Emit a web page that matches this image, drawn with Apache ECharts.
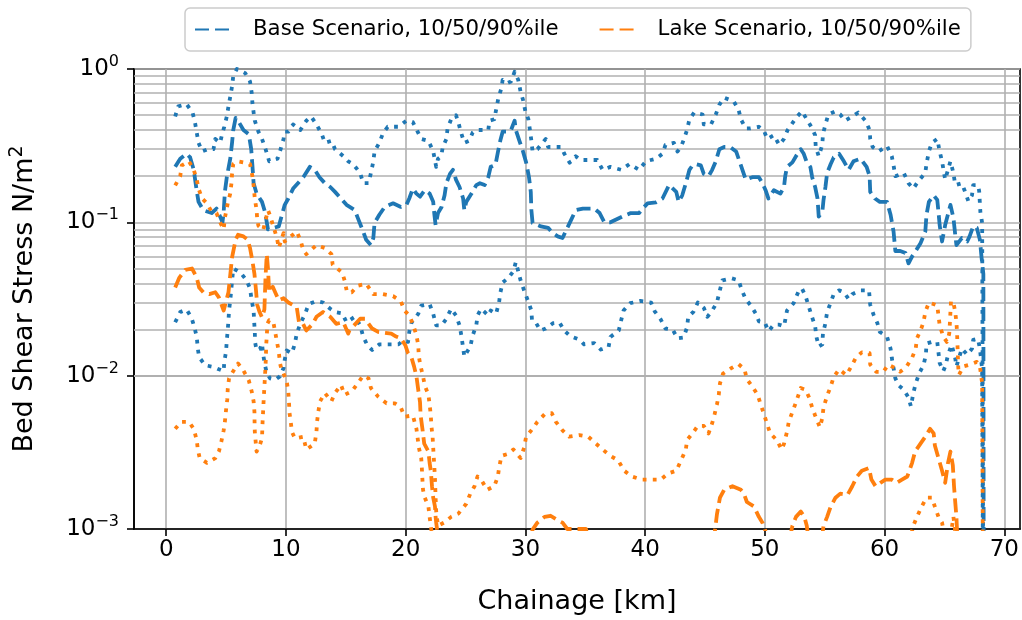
<!DOCTYPE html>
<html>
<head>
<meta charset="utf-8">
<script src="https://cdn.jsdelivr.net/npm/echarts@6/dist/echarts.min.js"></script>
<style>
  html, body { margin: 0; padding: 0; background: #ffffff; }
  #chart { width: 1022px; height: 620px; }
</style>
</head>
<body>
<div id="chart"></div>
<script>
// ---------------- DATA (chainage km, bed shear stress N/m2) ----------------
const legendNames = ['Base Scenario, 10/50/90%ile', 'Lake Scenario, 10/50/90%ile'];
const xTickValues = [0, 10, 20, 30, 40, 50, 60, 70];
const yMinorValues = [0.002,0.003,0.004,0.005,0.006,0.007,0.008,0.009,
                      0.02,0.03,0.04,0.05,0.06,0.07,0.08,0.09,
                      0.2,0.3,0.4,0.5,0.6,0.7,0.8,0.9];

const base90 = [[0.75,0.49],[1.0,0.57],[1.7,0.59],[2.2,0.52],[2.4,0.45],[2.55,0.385],[2.7,0.33],[3.0,0.29],[3.5,0.30],[3.95,0.30],[4.1,0.35],[4.5,0.33],[4.65,0.37],[4.85,0.42],[5.06,0.49],[5.2,0.57],[5.35,0.66],[5.5,0.77],[5.6,0.90],[5.9,1.0],[6.6,0.94],[7.0,0.83],[7.14,0.70],[7.2,0.60],[7.3,0.52],[7.4,0.46],[7.7,0.39],[8.0,0.35],[8.3,0.30],[8.6,0.25],[9.3,0.26],[9.5,0.29],[9.8,0.35],[9.9,0.39],[10.2,0.39],[10.6,0.435],[11.2,0.40],[11.7,0.46],[12.1,0.49],[12.55,0.435],[13.0,0.375],[13.25,0.33],[13.8,0.34],[14.1,0.30],[14.8,0.27],[15.2,0.25],[15.6,0.24],[16.2,0.21],[16.45,0.18],[16.9,0.18],[17.1,0.21],[17.3,0.25],[17.4,0.29],[17.8,0.33],[18.1,0.38],[18.5,0.42],[19.4,0.42],[20.06,0.46],[20.6,0.45],[21.0,0.39],[21.3,0.35],[21.9,0.34],[22.3,0.29],[22.55,0.23],[22.7,0.26],[22.97,0.27],[23.1,0.31],[23.4,0.35],[23.5,0.41],[23.8,0.47],[24.2,0.50],[24.4,0.45],[24.6,0.39],[24.9,0.33],[25.3,0.34],[25.6,0.385],[25.9,0.40],[26.3,0.40],[26.9,0.40],[27.0,0.46],[27.4,0.47],[27.55,0.54],[27.75,0.65],[28.0,0.75],[28.1,0.85],[28.5,0.81],[28.8,0.83],[29.1,0.96],[29.4,0.85],[29.6,0.71],[29.8,0.63],[30.0,0.53],[30.25,0.47],[30.4,0.39],[30.5,0.34],[30.6,0.29],[31.0,0.30],[31.7,0.35],[31.9,0.31],[32.4,0.31],[33.0,0.31],[33.25,0.28],[33.7,0.245],[34.2,0.27],[34.6,0.255],[35.5,0.255],[36.0,0.255],[36.45,0.22],[37.1,0.23],[38.0,0.22],[38.7,0.24],[39.5,0.22],[40.06,0.25],[40.9,0.26],[41.45,0.28],[41.7,0.32],[42.4,0.33],[42.7,0.29],[43.0,0.31],[43.25,0.35],[43.5,0.40],[43.7,0.47],[44.1,0.52],[44.8,0.505],[44.9,0.435],[45.5,0.435],[45.9,0.505],[46.2,0.585],[46.6,0.65],[47.4,0.615],[47.8,0.545],[48.0,0.47],[48.4,0.41],[48.8,0.41],[49.5,0.42],[49.9,0.40],[50.2,0.35],[50.75,0.37],[51.2,0.32],[51.6,0.35],[51.9,0.40],[52.1,0.42],[52.6,0.48],[53.1,0.53],[53.5,0.47],[53.95,0.41],[54.2,0.37],[54.25,0.31],[54.5,0.27],[54.8,0.32],[54.85,0.375],[55.06,0.435],[55.3,0.505],[55.9,0.53],[56.3,0.505],[56.7,0.46],[57.1,0.48],[57.8,0.52],[58.4,0.46],[58.75,0.40],[58.8,0.35],[59.0,0.31],[59.5,0.29],[60.2,0.315],[60.6,0.27],[60.75,0.235],[60.9,0.20],[61.6,0.21],[62.0,0.18],[62.4,0.166],[62.8,0.185],[63.4,0.21],[63.5,0.24],[63.7,0.29],[63.95,0.33],[64.4,0.35],[64.6,0.29],[64.8,0.25],[65.06,0.19],[65.5,0.25],[65.75,0.21],[65.9,0.175],[66.45,0.18],[66.7,0.16],[67.0,0.137],[67.3,0.15],[67.4,0.175],[67.8,0.175],[67.9,0.16],[68.0,0.117],[68.15,0.099],[68.3,0.00001]];

const base50 = [[0.75,0.23],[1.17,0.26],[1.7,0.28],[2.0,0.265],[2.3,0.22],[2.55,0.16],[2.7,0.136],[3.1,0.12],[3.8,0.115],[4.2,0.123],[4.5,0.109],[4.7,0.10],[4.8,0.117],[4.9,0.158],[5.06,0.197],[5.35,0.26],[5.5,0.33],[5.6,0.40],[5.8,0.48],[6.0,0.46],[6.45,0.40],[6.9,0.375],[7.1,0.30],[7.2,0.235],[7.3,0.18],[7.55,0.154],[8.0,0.136],[8.25,0.117],[8.5,0.09],[8.95,0.092],[9.4,0.094],[9.6,0.107],[9.9,0.13],[10.2,0.143],[10.6,0.166],[11.0,0.18],[11.45,0.197],[12.0,0.23],[12.4,0.22],[12.8,0.197],[13.25,0.18],[13.7,0.17],[14.1,0.158],[14.6,0.143],[15.06,0.13],[15.75,0.12],[16.0,0.107],[16.45,0.087],[16.7,0.077],[17.1,0.071],[17.3,0.079],[17.4,0.099],[17.8,0.112],[18.25,0.126],[18.95,0.133],[19.6,0.126],[20.06,0.13],[20.3,0.143],[20.6,0.166],[20.9,0.154],[21.2,0.147],[21.6,0.162],[22.0,0.154],[22.3,0.136],[22.4,0.112],[22.5,0.096],[22.7,0.115],[23.0,0.126],[23.25,0.15],[23.4,0.18],[23.7,0.207],[23.95,0.22],[24.2,0.19],[24.5,0.17],[24.8,0.143],[24.9,0.12],[25.06,0.136],[25.5,0.154],[25.9,0.175],[26.2,0.18],[26.6,0.175],[26.9,0.197],[27.1,0.23],[27.5,0.237],[27.7,0.286],[27.9,0.34],[28.1,0.39],[28.5,0.39],[28.8,0.40],[29.1,0.46],[29.2,0.40],[29.5,0.34],[29.8,0.29],[30.06,0.246],[30.3,0.197],[30.45,0.158],[30.5,0.12],[30.6,0.099],[31.3,0.094],[31.9,0.092],[32.3,0.085],[32.7,0.081],[33.1,0.079],[33.5,0.092],[33.8,0.103],[34.2,0.12],[34.8,0.123],[35.75,0.123],[36.2,0.115],[36.6,0.10],[37.1,0.10],[38.1,0.109],[38.8,0.115],[39.5,0.115],[39.8,0.123],[40.2,0.133],[40.9,0.135],[41.45,0.143],[42.0,0.175],[42.6,0.158],[42.8,0.136],[43.1,0.15],[43.4,0.18],[43.7,0.22],[43.95,0.235],[44.2,0.24],[44.65,0.235],[44.9,0.207],[45.3,0.20],[45.6,0.22],[45.9,0.25],[46.2,0.30],[46.6,0.31],[47.1,0.31],[47.6,0.29],[48.0,0.235],[48.4,0.19],[48.95,0.197],[49.5,0.197],[49.8,0.18],[50.06,0.162],[50.3,0.143],[50.75,0.162],[51.3,0.154],[51.6,0.17],[51.7,0.20],[51.85,0.23],[52.3,0.246],[52.6,0.27],[53.0,0.30],[53.25,0.28],[53.5,0.246],[53.8,0.23],[53.95,0.197],[54.2,0.17],[54.4,0.143],[54.5,0.109],[54.8,0.117],[54.9,0.14],[55.06,0.17],[55.2,0.21],[55.5,0.24],[55.75,0.265],[56.2,0.28],[56.6,0.25],[57.0,0.22],[57.4,0.25],[58.0,0.26],[58.5,0.23],[58.75,0.20],[58.8,0.158],[59.2,0.143],[59.6,0.136],[60.2,0.136],[60.5,0.112],[60.75,0.087],[60.9,0.065],[61.3,0.065],[61.75,0.063],[62.0,0.054],[62.3,0.06],[62.6,0.065],[63.0,0.073],[63.4,0.087],[63.5,0.112],[63.7,0.136],[64.1,0.15],[64.4,0.14],[64.5,0.117],[64.6,0.096],[64.8,0.075],[65.06,0.096],[65.5,0.13],[65.75,0.107],[65.9,0.083],[66.0,0.071],[66.45,0.079],[66.9,0.075],[67.1,0.081],[67.4,0.094],[67.7,0.092],[67.96,0.077],[68.1,0.059],[68.25,0.046],[68.3,0.00001]];

const base10 = [[0.75,0.0223],[1.17,0.026],[1.7,0.027],[2.1,0.024],[2.35,0.0208],[2.55,0.0179],[2.64,0.015],[2.75,0.0132],[3.25,0.0117],[3.95,0.0114],[4.4,0.011],[4.8,0.0107],[4.85,0.0123],[5.0,0.0144],[5.06,0.017],[5.14,0.0198],[5.2,0.023],[5.25,0.0266],[5.35,0.031],[5.6,0.050],[6.2,0.047],[6.7,0.042],[7.0,0.037],[7.14,0.031],[7.3,0.0266],[7.35,0.0223],[7.4,0.0193],[7.42,0.0166],[7.55,0.0146],[7.85,0.015],[8.0,0.0162],[8.1,0.0137],[8.25,0.0117],[8.4,0.0104],[8.67,0.0096],[9.1,0.0094],[9.5,0.0099],[9.8,0.0112],[9.9,0.0127],[10.06,0.0146],[10.5,0.014],[10.75,0.0162],[10.9,0.0188],[11.2,0.0218],[11.6,0.0253],[11.9,0.0293],[12.55,0.0307],[13.1,0.030],[13.7,0.0273],[14.1,0.026],[14.7,0.0255],[15.06,0.0223],[15.75,0.0242],[16.2,0.0213],[16.45,0.018],[16.8,0.0158],[17.2,0.0147],[17.8,0.016],[18.5,0.016],[19.4,0.016],[19.8,0.017],[20.2,0.0166],[20.3,0.0193],[20.5,0.0223],[21.05,0.0253],[21.3,0.0286],[22.0,0.0293],[22.3,0.0253],[22.55,0.0213],[23.0,0.0213],[23.4,0.0235],[23.8,0.0273],[24.2,0.0247],[24.5,0.0213],[24.65,0.0183],[24.9,0.0133],[25.06,0.014],[25.4,0.0155],[25.6,0.0183],[25.9,0.0213],[26.0,0.0247],[26.3,0.0273],[26.9,0.0247],[27.1,0.0266],[27.55,0.0253],[27.8,0.030],[27.9,0.0345],[28.1,0.0405],[28.6,0.0436],[29.0,0.048],[29.2,0.055],[29.4,0.048],[29.6,0.0418],[29.9,0.0358],[30.2,0.031],[30.5,0.0266],[30.55,0.023],[30.9,0.022],[31.25,0.0197],[31.7,0.0203],[32.3,0.022],[32.85,0.0222],[33.25,0.0197],[33.75,0.0181],[34.5,0.0172],[34.9,0.016],[35.75,0.0163],[36.3,0.0148],[36.95,0.0154],[37.1,0.0179],[37.8,0.0197],[38.0,0.023],[38.2,0.0266],[38.75,0.0297],[39.6,0.0307],[40.5,0.030],[40.8,0.0263],[41.3,0.0233],[41.7,0.0203],[42.3,0.020],[42.7,0.0175],[43.2,0.0177],[43.5,0.0206],[43.6,0.0242],[44.05,0.0262],[44.4,0.030],[44.9,0.0277],[45.2,0.0242],[45.6,0.0266],[46.0,0.030],[46.2,0.035],[46.45,0.0418],[47.2,0.0432],[47.8,0.0419],[48.1,0.0358],[48.4,0.0316],[48.9,0.0282],[49.25,0.0253],[49.5,0.0226],[50.0,0.0222],[50.3,0.0195],[50.75,0.0215],[51.2,0.0215],[51.6,0.021],[51.7,0.023],[51.85,0.0266],[52.4,0.0297],[52.85,0.036],[53.1,0.037],[53.4,0.033],[53.95,0.024],[54.2,0.021],[54.3,0.018],[54.5,0.0155],[54.8,0.016],[54.85,0.0188],[55.06,0.022],[55.2,0.026],[55.5,0.030],[55.75,0.034],[56.2,0.036],[56.6,0.035],[57.0,0.0316],[57.3,0.034],[58.0,0.036],[58.7,0.036],[58.8,0.029],[59.1,0.0247],[59.4,0.022],[59.6,0.0193],[60.2,0.018],[60.5,0.015],[60.6,0.0131],[60.75,0.0112],[60.9,0.0096],[61.2,0.0086],[61.6,0.0081],[62.0,0.0072],[62.2,0.0063],[62.4,0.0077],[62.6,0.0089],[62.9,0.0104],[63.25,0.0117],[63.45,0.0137],[63.5,0.0162],[63.95,0.0166],[64.4,0.0166],[64.6,0.0121],[64.9,0.0107],[65.1,0.0117],[65.3,0.0137],[65.6,0.0159],[65.9,0.013],[66.0,0.0115],[66.45,0.015],[66.9,0.0137],[67.3,0.015],[67.4,0.0171],[67.8,0.0174],[67.96,0.015],[68.15,0.011],[68.3,0.00001]];

const lake90 = [[0.75,0.174],[1.17,0.20],[1.3,0.235],[1.9,0.25],[2.3,0.22],[2.55,0.19],[2.7,0.166],[3.0,0.143],[3.4,0.133],[3.8,0.117],[4.2,0.115],[4.5,0.10],[4.8,0.09],[4.9,0.107],[5.14,0.133],[5.35,0.154],[5.45,0.18],[5.5,0.207],[5.6,0.24],[6.0,0.25],[6.45,0.246],[7.0,0.24],[7.2,0.20],[7.3,0.174],[7.4,0.143],[7.55,0.12],[7.6,0.105],[7.7,0.095],[8.1,0.089],[8.5,0.12],[8.65,0.112],[9.25,0.079],[9.4,0.068],[9.8,0.085],[9.9,0.075],[10.9,0.087],[11.2,0.077],[11.45,0.066],[11.7,0.062],[12.55,0.071],[13.25,0.068],[13.8,0.062],[13.9,0.053],[14.7,0.047],[14.9,0.0418],[15.1,0.035],[15.5,0.035],[16.0,0.0386],[16.7,0.0398],[17.3,0.034],[18.1,0.034],[18.95,0.033],[19.6,0.0305],[19.9,0.0266],[20.3,0.0247],[20.6,0.0218],[20.9,0.0183],[21.05,0.0158],[21.1,0.0133],[21.25,0.0115],[21.45,0.0099],[21.6,0.0086],[21.9,0.0075],[22.0,0.0065],[22.1,0.0055],[22.15,0.0047],[22.25,0.004],[22.3,0.0034],[22.35,0.0029],[22.4,0.0025],[22.45,0.0021],[22.5,0.0016],[22.55,0.0013],[22.7,0.00105],[23.2,0.0011],[23.8,0.0012],[24.4,0.00126],[25.06,0.00146],[25.4,0.0017],[25.75,0.0019],[26.0,0.0022],[26.3,0.0021],[26.8,0.0018],[27.4,0.0019],[27.7,0.0022],[27.8,0.0025],[28.0,0.003],[28.6,0.0031],[29.0,0.0033],[29.6,0.0029],[29.9,0.0034],[30.06,0.004],[30.6,0.0045],[31.0,0.005],[31.6,0.0056],[32.2,0.0057],[32.55,0.005],[33.1,0.0044],[33.65,0.004],[34.5,0.0041],[35.25,0.004],[35.9,0.0036],[36.45,0.0033],[37.1,0.003],[37.75,0.0028],[38.25,0.0024],[38.9,0.0022],[39.7,0.0021],[40.6,0.0021],[41.3,0.0021],[41.9,0.0023],[42.6,0.0024],[43.0,0.0028],[43.4,0.0033],[43.5,0.0038],[43.95,0.0042],[44.4,0.0047],[44.9,0.0047],[45.3,0.0042],[45.6,0.0049],[45.8,0.0056],[46.0,0.0065],[46.15,0.0075],[46.25,0.0089],[46.5,0.0103],[47.2,0.0112],[47.8,0.0119],[48.3,0.011],[48.5,0.0095],[48.95,0.0085],[49.4,0.0075],[49.65,0.0065],[49.9,0.0057],[50.2,0.0048],[50.45,0.0042],[51.0,0.0038],[51.4,0.0033],[51.6,0.0036],[51.85,0.0043],[52.0,0.005],[52.3,0.0058],[52.6,0.0067],[53.0,0.0083],[53.4,0.0081],[53.7,0.0072],[53.95,0.0062],[54.2,0.0055],[54.6,0.0046],[54.8,0.0053],[54.9,0.0062],[55.2,0.0074],[55.5,0.0085],[55.75,0.0098],[56.2,0.011],[56.8,0.0101],[57.2,0.0114],[57.6,0.0131],[58.1,0.0142],[58.75,0.014],[58.8,0.0118],[59.3,0.0106],[59.9,0.0106],[60.3,0.0118],[60.9,0.0112],[61.3,0.0106],[61.85,0.0115],[62.3,0.0131],[62.6,0.015],[62.7,0.0175],[63.0,0.0197],[63.25,0.0223],[63.4,0.026],[63.7,0.030],[64.4,0.0287],[64.5,0.0247],[64.6,0.0213],[64.9,0.018],[65.2,0.0166],[65.4,0.0188],[65.45,0.0218],[65.5,0.026],[65.55,0.0307],[65.75,0.030],[65.9,0.026],[66.0,0.0223],[66.05,0.0193],[66.15,0.0115],[66.2,0.0101],[66.6,0.0115],[67.1,0.0118],[67.7,0.0123],[67.96,0.0115],[68.15,0.0089],[68.3,0.00001]];

const lake50 = [[0.75,0.0376],[1.1,0.0436],[1.6,0.049],[2.15,0.050],[2.55,0.0436],[2.75,0.0376],[3.1,0.035],[3.6,0.034],[4.1,0.035],[4.4,0.0324],[4.6,0.0293],[4.8,0.0266],[5.2,0.035],[5.5,0.059],[5.8,0.077],[6.0,0.083],[6.45,0.081],[6.8,0.077],[7.0,0.068],[7.2,0.056],[7.37,0.046],[7.5,0.036],[7.6,0.029],[7.8,0.026],[8.0,0.024],[8.2,0.027],[8.3,0.045],[8.4,0.062],[8.5,0.05],[8.6,0.035],[8.9,0.038],[9.1,0.035],[9.4,0.031],[9.8,0.032],[10.2,0.030],[10.9,0.028],[11.1,0.022],[11.4,0.022],[11.7,0.0197],[12.25,0.0218],[12.55,0.0242],[13.1,0.026],[13.7,0.0242],[14.2,0.0218],[14.8,0.0223],[15.2,0.0188],[15.3,0.0197],[16.2,0.0235],[16.6,0.0235],[17.2,0.0203],[17.7,0.0193],[18.8,0.0188],[19.2,0.018],[19.6,0.0175],[19.97,0.0158],[20.2,0.014],[20.5,0.013],[20.7,0.0115],[20.9,0.0099],[21.05,0.0081],[21.2,0.0067],[21.25,0.0055],[21.4,0.0045],[21.55,0.0036],[21.9,0.0032],[22.0,0.0027],[22.1,0.0024],[22.2,0.0019],[22.3,0.0016],[22.45,0.0014],[22.5,0.0012],[22.55,0.0011],[22.7,0.0009],[23.5,0.0005],[27.0,0.0004],[30.0,0.0006],[30.6,0.00099],[31.0,0.0011],[31.6,0.0012],[32.1,0.00122],[32.7,0.00114],[33.1,0.0011],[33.5,0.001],[34.4,0.001],[35.06,0.001],[35.3,0.0008],[40.0,0.0004],[45.7,0.0008],[46.0,0.00125],[46.25,0.0016],[46.6,0.0018],[47.3,0.0019],[48.0,0.0018],[48.25,0.0017],[48.5,0.0015],[49.1,0.0014],[49.5,0.0012],[49.8,0.0011],[50.0,0.001],[50.3,0.0008],[52.0,0.0008],[52.3,0.00105],[52.6,0.0012],[53.0,0.0013],[53.3,0.0012],[53.5,0.00105],[53.7,0.0008],[54.7,0.0008],[54.9,0.00105],[55.2,0.0012],[55.5,0.0014],[55.9,0.0016],[56.3,0.0017],[56.9,0.00167],[57.3,0.0019],[57.7,0.0022],[58.1,0.0024],[58.7,0.0025],[58.9,0.0021],[59.25,0.0019],[59.65,0.002],[60.06,0.0021],[60.6,0.0021],[61.0,0.002],[61.45,0.0021],[61.9,0.0022],[62.3,0.0027],[62.55,0.0032],[63.0,0.0036],[63.4,0.004],[63.8,0.0045],[64.1,0.0042],[64.2,0.0035],[64.5,0.0029],[64.8,0.0024],[65.06,0.002],[65.3,0.0027],[65.5,0.0032],[65.7,0.0026],[65.8,0.0019],[65.9,0.0015],[66.0,0.0012],[66.1,0.0008],[68.3,0.0003]];

const lake10 = [[0.75,0.0045],[1.25,0.005],[1.9,0.005],[2.3,0.0045],[2.55,0.0038],[2.64,0.0033],[2.8,0.0029],[3.4,0.0027],[4.1,0.0029],[4.4,0.0032],[4.6,0.0037],[4.8,0.0044],[4.9,0.005],[5.0,0.006],[5.1,0.007],[5.14,0.0082],[5.25,0.0096],[5.6,0.0107],[6.0,0.012],[6.45,0.0108],[6.9,0.0093],[7.14,0.0079],[7.3,0.0068],[7.37,0.0058],[7.38,0.005],[7.4,0.0043],[7.5,0.0035],[7.55,0.0032],[7.75,0.0034],[8.0,0.0039],[8.05,0.005],[8.1,0.006],[8.15,0.0072],[8.2,0.0084],[8.25,0.01],[8.3,0.0117],[8.33,0.0137],[8.35,0.0158],[8.4,0.018],[8.45,0.0218],[8.6,0.023],[8.95,0.0223],[9.1,0.0193],[9.25,0.0166],[9.4,0.0144],[9.5,0.0121],[9.6,0.0112],[10.06,0.0093],[10.2,0.0078],[10.25,0.0068],[10.3,0.0057],[10.4,0.005],[10.5,0.0043],[10.75,0.0039],[11.45,0.004],[11.7,0.0033],[12.4,0.0036],[12.55,0.0043],[12.6,0.005],[12.7,0.0058],[12.85,0.0068],[13.25,0.0077],[13.8,0.0068],[14.1,0.0077],[14.6,0.0087],[14.9,0.0075],[15.5,0.0079],[15.9,0.0087],[16.45,0.0100],[16.9,0.0096],[17.1,0.0083],[17.7,0.0073],[18.4,0.0066],[19.1,0.0066],[19.6,0.0062],[19.9,0.0054],[20.6,0.0055],[20.9,0.0045],[21.1,0.0034],[21.3,0.0029],[21.35,0.0025],[21.4,0.0021],[21.45,0.0018],[21.6,0.0016],[21.9,0.0014],[22.0,0.0012],[22.3,0.0008],[25.0,0.0004],[40.0,0.0003],[60.0,0.0005],[62.2,0.0009],[62.4,0.00105],[62.7,0.0012],[63.1,0.0014],[63.5,0.0016],[63.95,0.0016],[64.2,0.0014],[64.5,0.0012],[64.8,0.0011],[65.0,0.0009],[65.3,0.0008],[65.6,0.001],[65.75,0.0012],[65.95,0.0009],[66.2,0.0005],[68.3,0.0002]];

// ---------------- STYLE ----------------
const FONT = 'DejaVu Sans';
const BLUE = '#1f77b4';
const ORANGE = '#ff7f0e';
const LW = 3.8;
const DASH = [14, 6];
const DOT = [3.8, 6.3];
const GRID = '#b0b0b0';
const X_MIN = -2.69, X_MAX = 71.31;

function mk(name, data, color, dash) {
  return {
    type: 'line', name: name, data: data,
    symbol: 'none', showSymbol: false, clip: true, z: 3,
    lineStyle: { color: color, width: LW, type: dash, cap: 'butt', join: 'round' },
    itemStyle: { color: color },
    emphasis: { disabled: true },
    animation: false
  };
}

function expLabel(v) {
  const e = Math.round(Math.log10(v));
  const s = String(e).replace('-', '\u2212');
  return '{b|10}{s|' + s + '}';
}

const minorGridData = yMinorValues.map(v => ({ yAxis: v }));
const minorTickData = yMinorValues.map(v => [
  { coord: [X_MIN, v] },
  { coord: [X_MIN - 4.5 / 12.0, v] }
]);

const option = {
  backgroundColor: '#ffffff',
  animation: false,
  textStyle: { fontFamily: FONT },
  grid: {
    left: 132, right: 2, top: 69, bottom: 86,
    show: true, borderColor: '#000000', borderWidth: 1.6, backgroundColor: 'transparent'
  },
  legend: {
    data: legendNames,
    left: 185, top: 8,
    orient: 'horizontal',
    padding: [11, 10, 11, 9],
    itemWidth: 40, itemHeight: 16, itemGap: 40,
    borderColor: '#cccccc', borderWidth: 1.5, borderRadius: 5,
    backgroundColor: '#ffffff',
    itemStyle: { opacity: 0 },
    textStyle: { fontFamily: FONT, fontSize: 21.3, color: '#000000', padding: [0, 0, 0, 13] },
    selectedMode: false
  },
  xAxis: {
    type: 'value', min: X_MIN, max: X_MAX,
    minInterval: 10, maxInterval: 10,
    name: 'Chainage [km]', nameLocation: 'middle', nameGap: 59,
    nameTextStyle: { fontFamily: FONT, fontSize: 27, color: '#000000' },
    axisLine: { show: true, onZero: false, lineStyle: { color: '#000000', width: 1.6 } },
    axisTick: { show: true, length: 7, lineStyle: { color: '#000000', width: 1.6 }, customValues: xTickValues },
    axisLabel: { fontFamily: FONT, fontSize: 23, color: '#000000', margin: 10, customValues: xTickValues },
    splitLine: { show: true, lineStyle: { color: GRID, width: 1.6 } }
  },
  yAxis: {
    type: 'log', logBase: 10, min: 0.001, max: 1,
    name: '{a|Bed Shear Stress N/m}{s|2}', nameLocation: 'middle', nameGap: 93,
    nameTextStyle: {
      fontFamily: FONT, color: '#000000',
      rich: {
        a: { fontFamily: FONT, fontSize: 27, color: '#000000', lineHeight: 33 },
        s: { fontFamily: FONT, fontSize: 19, color: '#000000', verticalAlign: 'top', lineHeight: 33 }
      }
    },
    axisLine: { show: true, onZero: false, lineStyle: { color: '#000000', width: 1.6 } },
    axisTick: { show: true, length: 7, lineStyle: { color: '#000000', width: 1.6 } },
    axisLabel: {
      margin: 15, formatter: expLabel,
      rich: {
        b: { fontFamily: FONT, fontSize: 23, color: '#000000', lineHeight: 30 },
        s: { fontFamily: FONT, fontSize: 16, color: '#000000', verticalAlign: 'top', lineHeight: 30 }
      }
    },
    splitLine: { show: true, lineStyle: { color: GRID, width: 1.6 } }
  },
  series: [
    {
      type: 'line', name: 'gridlines', data: [], clip: false, z: 1, silent: true,
      markLine: {
        silent: true, symbol: 'none', z: 1, animation: false,
        label: { show: false },
        emphasis: { disabled: true },
        lineStyle: { color: GRID, width: 1.6, type: 'solid' },
        data: minorGridData
      }
    },
    {
      type: 'line', name: 'minorticks', data: [], clip: false, z: 1, silent: true,
      markLine: {
        silent: true, symbol: 'none', z: 4, animation: false,
        label: { show: false },
        emphasis: { disabled: true },
        lineStyle: { color: '#000000', width: 1.2, type: 'solid' },
        data: minorTickData
      }
    },
    mk(legendNames[0], base50, BLUE, DASH),
    mk('Base Scenario 10%ile', base10, BLUE, DOT),
    mk('Base Scenario 90%ile', base90, BLUE, DOT),
    mk(legendNames[1], lake50, ORANGE, DASH),
    mk('Lake Scenario 10%ile', lake10, ORANGE, DOT),
    mk('Lake Scenario 90%ile', lake90, ORANGE, DOT)
  ]
};

const chart = echarts.init(document.getElementById('chart'), null, { renderer: 'canvas' });
chart.setOption(option);
</script>
</body>
</html>
